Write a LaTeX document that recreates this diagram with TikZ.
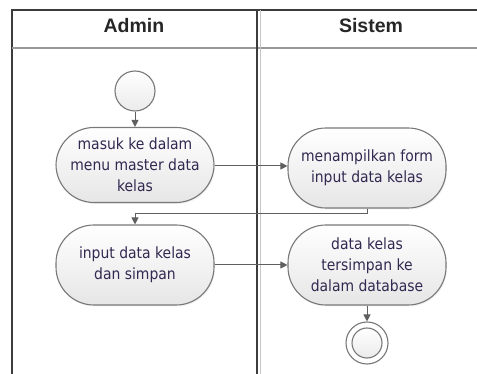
\documentclass[tikz,border=0pt]{standalone}
\usepackage{fontspec}
\usetikzlibrary{arrows.meta,shadows}
\newfontfamily\nodefont{DejaVu Sans Condensed}
\newfontfamily\headfont{Liberation Sans}
\definecolor{txt}{RGB}{50,40,80}
\definecolor{bord}{RGB}{120,120,120}
\definecolor{conn}{RGB}{95,95,95}
\definecolor{lane}{RGB}{60,60,60}
\tikzset{
  act/.style={draw=bord, line width=1.1pt, rounded corners=38pt,
    top color=white, bottom color={rgb,255:red,230;green,230;blue,230},
    minimum width=158pt, align=center, text=txt,
    font=\nodefont\fontsize{15.5}{21}\selectfont,
    drop shadow={opacity=0.12, shadow xshift=1pt, shadow yshift=-1.5pt}},
  flow/.style={draw=conn, line width=1pt, -{Triangle[width=7pt,length=7pt]}},
  head/.style={font=\headfont\bfseries\fontsize{19.5}{22}\selectfont, text=black!85},
  startnode/.style={circle, draw=bord, line width=1.1pt, minimum size=40pt,
    top color=white, bottom color={rgb,255:red,235;green,235;blue,235}},
  endouter/.style={circle, draw=bord, line width=1.1pt, minimum size=42pt, fill=white},
  endinner/.style={circle, draw=bord, line width=1.1pt, minimum size=30pt,
    top color=white, bottom color={rgb,255:red,235;green,235;blue,235}}
}
\begin{document}
\begin{tikzpicture}[x=1pt,y=-1pt]
\useasboundingbox (0,0) rectangle (477,374);
% swimlanes
\draw[line width=1.5pt, draw=lane] (12,380) -- (12,10) -- (490,10);
\draw[line width=1.3pt, draw=gray!80] (12,48) -- (490,48);
\draw[line width=1.5pt, draw=lane] (257,10) -- (257,380);
\draw[line width=0.8pt, draw=gray!45] (260.5,10) -- (260.5,380);
\node[head] (hA) at (134,26) {Admin};
\node[head] (hS) at (371,26) {Sistem};
% nodes
\node[startnode] (s) at (135,91) {};
\node[act, minimum height=75pt] (n1) at (135,165) {masuk ke dalam\\menu master data\\kelas};
\node[act, minimum height=80pt] (n2) at (367,168) {menampilkan form\\input data kelas};
\node[act, minimum height=80pt] (n3) at (135,265) {input data kelas\\dan simpan};
\node[act, minimum height=80pt] (n4) at (367,265) {data kelas\\tersimpan ke\\dalam database};
\node[endouter] (e) at (367,343) {};
\node[endinner] (ei) at (e) {};
% connectors
\draw[flow] (s) -- (n1);
\draw[flow] (n1.east |- 0,166) -- (n2.west |- 0,166);
\draw[flow] (n2.south) -- ++(0,5) -| (n3.north);
\draw[flow] (n3) -- (n4);
\draw[flow] (n4) -- (e);
\end{tikzpicture}
\end{document}
